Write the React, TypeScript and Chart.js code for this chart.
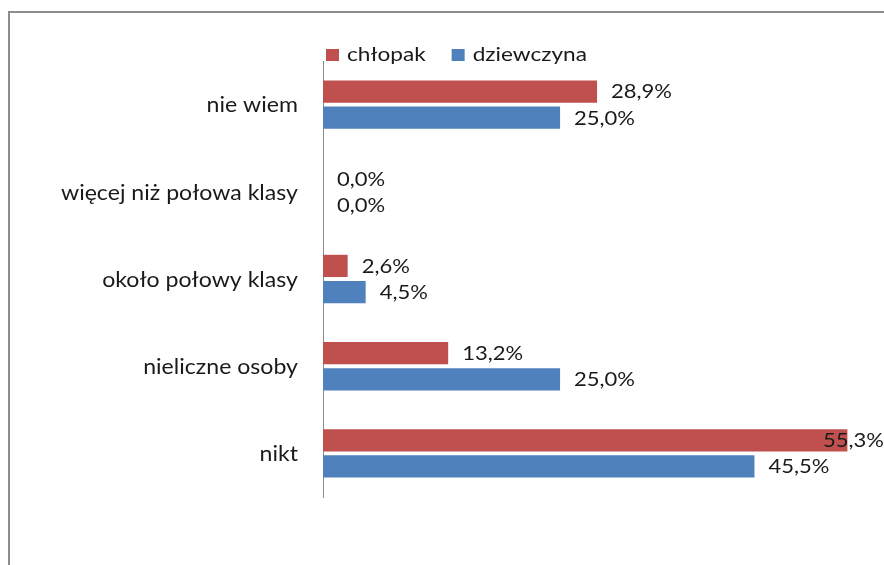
import React, { useEffect, useRef } from "react";
import { Chart, registerables } from "chart.js";

Chart.register(...registerables);

const categories = [
  "nie wiem",
  "więcej niż połowa klasy",
  "około połowy klasy",
  "nieliczne osoby",
  "nikt",
];
const seriesNames = ["chłopak", "dziewczyna"];
const chlopak = [28.9, 0.0, 2.6, 13.2, 55.3];
const dziewczyna = [25.0, 0.0, 4.5, 25.0, 45.5];
const seriesColors = ["#C0504D", "#4F81BD"];

const FONT = "Lato, 'Open Sans', sans-serif";
const TEXT_COLOR = "#1a1a1a";

const fmt = (v: number) => v.toFixed(1).replace(".", ",") + "%";

function stretchedText(
  ctx: CanvasRenderingContext2D,
  txt: string,
  x: number,
  y: number,
  align: CanvasTextAlign,
  sx: number
) {
  ctx.save();
  ctx.translate(x, y);
  ctx.scale(sx, 1);
  ctx.textAlign = align;
  ctx.fillText(txt, 0, 0);
  ctx.restore();
}

const categoryLabelPlugin = {
  id: "categoryLabels",
  afterDraw(chart: any) {
    const ctx = chart.ctx;
    const ys = chart.scales.y;
    ctx.save();
    ctx.font = `21px ${FONT}`;
    ctx.fillStyle = TEXT_COLOR;
    ctx.textBaseline = "middle";
    chart.data.labels.forEach((lab: string, i: number) => {
      stretchedText(ctx, lab, chart.chartArea.left - 25, ys.getPixelForValue(i) + 1, "right", 1.1);
    });
    ctx.restore();
  },
};

const labelPlugin = {
  id: "valueLabels",
  afterDatasetsDraw(chart: any) {
    const ctx = chart.ctx;
    ctx.save();
    ctx.font = `18.5px ${FONT}`;
    ctx.fillStyle = TEXT_COLOR;
    ctx.textBaseline = "middle";
    chart.data.datasets.forEach((ds: any, di: number) => {
      const meta = chart.getDatasetMeta(di);
      meta.data.forEach((bar: any, i: number) => {
        const txt = fmt(ds.data[i]);
        const x = Math.min(bar.x + 14, chart.chartArea.right - 50);
        stretchedText(ctx, txt, x, bar.y + 1, "left", 1.19);
      });
    });
    ctx.restore();
  },
};

const legendPlugin = {
  id: "customLegend",
  afterDraw(chart: any) {
    const ctx = chart.ctx;
    ctx.save();
    ctx.font = `19.5px ${FONT}`;
    ctx.textBaseline = "middle";
    const sx = 1.16;
    let x = chart.chartArea.left + 3;
    const y = 42;
    chart.data.datasets.forEach((ds: any) => {
      ctx.fillStyle = ds.backgroundColor;
      ctx.fillRect(x, y - 6, 13, 12);
      x += 21;
      ctx.fillStyle = TEXT_COLOR;
      stretchedText(ctx, ds.label, x, y, "left", sx);
      x += ctx.measureText(ds.label).width * sx + 26;
    });
    ctx.restore();
  },
};

export default function App() {
  const ref = useRef<HTMLCanvasElement>(null);
  useEffect(() => {
    if (!ref.current) return;
    const chart = new Chart(ref.current, {
      type: "bar",
      data: {
        labels: categories,
        datasets: [
          { label: seriesNames[0], data: chlopak, backgroundColor: seriesColors[0] },
          { label: seriesNames[1], data: dziewczyna, backgroundColor: seriesColors[1] },
        ],
      },
      options: {
        indexAxis: "y",
        responsive: false,
        animation: false,
        datasets: { bar: { barPercentage: 0.85, categoryPercentage: 0.6 } },
        layout: { padding: { left: 0, right: 11, top: 48, bottom: 68 } },
        plugins: { legend: { display: false }, tooltip: { enabled: false } },
        scales: {
          x: { display: false, min: 0, max: 58 },
          y: {
            afterFit: (s: any) => {
              s.width = 313;
            },
            grid: { display: false, drawTicks: false },
            border: { display: true, color: "#8c8c8c", width: 1 },
            ticks: { display: false },
          },
        },
      },
      plugins: [labelPlugin, legendPlugin, categoryLabelPlugin],
    });
    return () => chart.destroy();
  }, []);
  return (
    <div
      style={{
        position: "fixed",
        left: 8,
        top: 11,
        borderLeft: "2px solid #8c8c8c",
        borderTop: "2px solid #8c8c8c",
        width: 900,
        height: 580,
        background: "#fff",
      }}
    >
      <canvas ref={ref} width={874} height={552} style={{ display: "block" }} />
    </div>
  );
}
